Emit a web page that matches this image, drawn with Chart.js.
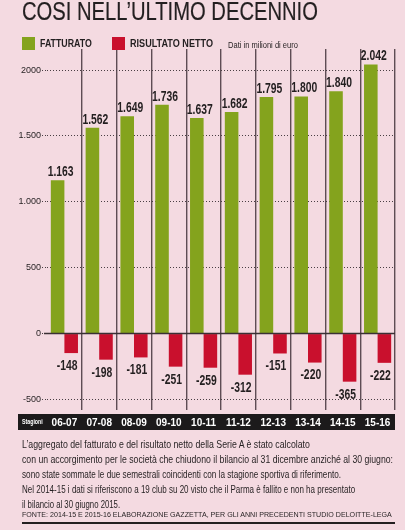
<!DOCTYPE html>
<html>
<head>
<meta charset="utf-8">
<script src="https://cdn.jsdelivr.net/npm/chart.js@4"></script>
<style>
  html, body { margin: 0; padding: 0; }
  body { width: 405px; height: 530px; background: #f4dae1; position: relative; overflow: hidden;
         font-family: "Liberation Sans", Arial, sans-serif; color: #231f20; }
  #chart { position: absolute; left: 0; top: 0; }
  .fit { position: absolute; white-space: nowrap; transform-origin: 0 0; }
  .title { left: 22px; top: -2px; font-size: 26px; line-height: 26px; -webkit-text-stroke: 0.2px #231f20; }
  .legend { top: 37px; font-weight: bold; font-size: 11.5px; line-height: 13px; }
  .sq { position: absolute; top: 37px; width: 13px; height: 13px; }
  .unit { left: 228px; top: 40px; font-size: 8.5px; line-height: 10px; }
  .note { left: 22px; font-size: 11.5px; line-height: 13px; }
  .source { left: 22px; top: 510px; font-size: 7.8px; line-height: 9px; }
  .rule { position: absolute; left: 22px; top: 522px; width: 373px; height: 1.5px; background: #231f20; }
</style>
</head>
<body>
<canvas id="chart" width="405" height="530"></canvas>
<div class="fit title" data-w="296">COSI NELL’ULTIMO DECENNIO</div>
<div class="sq" style="left:22px;background:#84a31d"></div>
<div class="fit legend" style="left:40px" data-w="52">FATTURATO</div>
<div class="sq" style="left:112px;background:#c9102d"></div>
<div class="fit legend" style="left:130px" data-w="83">RISULTATO NETTO</div>
<div class="fit unit" data-w="70">Dati in milioni di euro</div>
<div class="fit note" style="top:438px" data-w="288">L’aggregato del fatturato e del risultato netto della Serie A è stato calcolato</div>
<div class="fit note" style="top:453px" data-w="371">con un accorgimento per le società che chiudono il bilancio al 31 dicembre anziché al 30 giugno:</div>
<div class="fit note" style="top:468px" data-w="319">sono state sommate le due semestrali coincidenti con la stagione sportiva di riferimento.</div>
<div class="fit note" style="top:483px" data-w="333">Nel 2014-15 i dati si riferiscono a 19 club su 20 visto che il Parma è fallito e non ha presentato</div>
<div class="fit note" style="top:498px" data-w="98">il bilancio al 30 giugno 2015.</div>
<div class="fit source" data-w="370">FONTE: 2014-15 E 2015-16 ELABORAZIONE GAZZETTA, PER GLI ANNI PRECEDENTI STUDIO DELOITTE-LEGA</div>
<div class="rule"></div>
<script>
  const seasons = ['06-07', '07-08', '08-09', '09-10', '10-11', '11-12', '12-13', '13-14', '14-15', '15-16'];
  const fatturato = [1163, 1562, 1649, 1736, 1637, 1682, 1795, 1800, 1840, 2042];
  const risultato = [-148, -198, -181, -251, -259, -312, -151, -220, -365, -222];
  const yTicks = [-500, 0, 500, 1000, 1500, 2000];
  const yTickLabels = ['-500', '0', '500', '1.000', '1.500', '2000'];

  const FONT = '"Liberation Sans", Arial, sans-serif';

  //squeeze the text blocks to the narrow widths of the print layout
  document.querySelectorAll('.fit').forEach(function(el) {
    const w = parseFloat(el.dataset.w);
    el.style.transform = 'scaleX(' + (w / el.scrollWidth) + ')';
  });

  function fmt(v) {
    return String(v).replace(/\B(?=(\d{3})+(?!\d))/g, '.');
  }

  function narrowText(ctx, text, x, y, sx) {
    ctx.save();
    ctx.translate(x, y);
    ctx.scale(sx, 1);
    ctx.fillText(text, 0, 0);
    ctx.restore();
  }

  //black band under the plot, zero line, value labels
  const extras = {
    id: 'extras',
    beforeDraw(chart) {
      const ctx = chart.ctx;
      const area = chart.chartArea;
      ctx.save();
      ctx.fillStyle = '#1c1a1b';
      ctx.fillRect(18, area.bottom + 4, area.right - 18, 16);
      ctx.fillStyle = '#ffffff';
      ctx.font = 'bold 7px ' + FONT;
      ctx.textBaseline = 'middle';
      narrowText(ctx, 'Stagioni', 22, area.bottom + 12, 0.75);
      ctx.restore();
    },
    afterDatasetsDraw(chart) {
      const ctx = chart.ctx;
      const y = chart.scales.y;
      const area = chart.chartArea;
      ctx.save();
      ctx.strokeStyle = '#3a3034';
      ctx.lineWidth = 1.5;
      ctx.beginPath();
      ctx.moveTo(area.left - 3, y.getPixelForValue(0));
      ctx.lineTo(area.right, y.getPixelForValue(0));
      ctx.stroke();

      ctx.fillStyle = '#231f20';
      ctx.font = 'bold 14px ' + FONT;
      ctx.textAlign = 'center';
      chart.getDatasetMeta(0).data.forEach(function(bar, i) {
        ctx.textBaseline = 'bottom';
        narrowText(ctx, fmt(fatturato[i]), bar.x + 3, bar.y - 1, 0.74);
      });
      chart.getDatasetMeta(1).data.forEach(function(bar, i) {
        ctx.textBaseline = 'top';
        narrowText(ctx, String(risultato[i]), bar.x - 4, bar.y + 6, 0.74);
      });
      ctx.restore();
    }
  };

  new Chart(document.getElementById('chart'), {
    type: 'bar',
    data: {
      labels: seasons,
      datasets: [
        {
          label: 'FATTURATO',
          data: fatturato,
          backgroundColor: '#84a31d'
        },
        {
          label: 'RISULTATO NETTO',
          data: risultato,
          backgroundColor: '#c9102d'
        }
      ]
    },
    options: {
      responsive: false,
      animation: false,
      devicePixelRatio: 1,
      categoryPercentage: 0.78,
      barPercentage: 1,
      layout: { padding: { top: 49, right: 10, bottom: 98, left: 0 } },
      plugins: { legend: { display: false }, tooltip: { enabled: false } },
      scales: {
        x: {
          grid: {
            offset: true,
            drawTicks: false,
            lineWidth: 1.4,
            color: function(c) {
              return (c.index === 0 || c.index >= seasons.length) ? 'rgba(0,0,0,0)' : '#5e4c54';
            }
          },
          border: { display: false },
          ticks: {
            color: '#ffffff',
            padding: 7,
            font: { family: FONT, size: 10, weight: 'bold' }
          },
          afterFit: function(scale) { scale.height = 22; }
        },
        y: {
          min: -580,
          max: 2160,
          afterBuildTicks: function(scale) {
            scale.ticks = yTicks.map(function(v) { return { value: v }; });
          },
          grid: {
            color: '#4a3f44',
            lineWidth: 1,
            tickLength: 5,
            tickBorderDash: [1, 2]
          },
          border: { display: false, dash: [1, 2] },
          ticks: {
            color: '#231f20',
            padding: 1,
            font: { family: FONT, size: 9 },
            callback: function(v) {
              const i = yTicks.indexOf(v);
              return i >= 0 ? yTickLabels[i] : '';
            }
          },
          afterFit: function(scale) { scale.width = 47; }
        }
      }
    },
    plugins: [extras]
  });
</script>
</body>
</html>
